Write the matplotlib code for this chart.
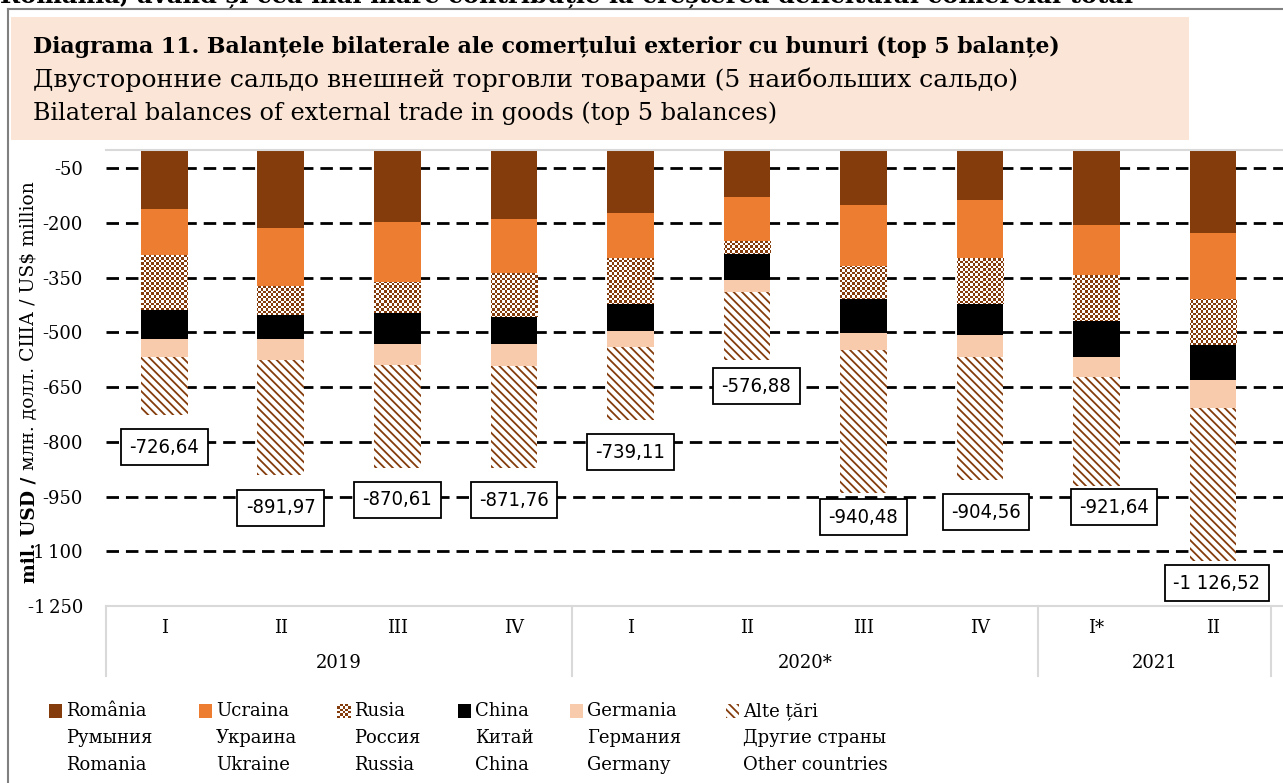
import numpy as np
import matplotlib.pyplot as plt
from matplotlib import font_manager
from matplotlib.patches import Rectangle
from matplotlib.colors import ListedColormap
from matplotlib.lines import Line2D
import matplotlib.transforms as mtransforms

# data (mil. USD, shown as negative balances)
quarters = ["I", "II", "III", "IV", "I", "II", "III", "IV", "I*", "II"]
years = ["2019", "2020*", "2021"]
year_span = [4, 4, 2]
romania = [162, 213, 198, 188, 172, 128, 151, 137, 206, 227]
ukraine = [125, 159, 164, 150, 123, 122, 167, 158, 137, 182]
russia = [152, 79, 84, 119, 127, 35, 91, 126, 126, 126]
china = [79, 67, 85, 76, 75, 72, 93, 86, 98, 95]
germany = [49, 59, 59, 58, 44, 33, 46, 60, 55, 78]
other = [159.6, 315.0, 280.6, 280.8, 198.1, 186.9, 392.5, 337.6, 299.6, 418.5]
totals = [726.64, 891.97, 870.61, 871.76, 739.11, 576.88, 940.48, 904.56, 921.64, 1126.52]
yticks = [-1250, -1100, -950, -800, -650, -500, -350, -200, -50]

# where the total boxes sit (x shift, y centre)
label_pos = [(0, -815), (0, -981), (0, -959), (0, -960), (0, -828),
             (0.08, -647), (0, -1007), (0.05, -993), (0.15, -979), (0.03, -1187)]

BROWN = "#843C0C"
ORANGE = "#ED7D31"
PEACH = "#F8CBAD"
SERIF = "DejaVu Serif"

# pick a condensed sans for the boxed totals if one is installed
fonts = font_manager.fontManager.ttflist
if any(f.name == "Liberation Sans Narrow" for f in fonts):
    narrow = dict(family="Liberation Sans Narrow", fontsize=15.5)
elif any(f.name == "DejaVu Sans" and f.stretch == "condensed" for f in fonts):
    narrow = dict(family="DejaVu Sans", stretch="condensed", fontsize=14.5)
else:
    narrow = dict(family="DejaVu Sans", fontsize=13)

plt.rcParams["hatch.linewidth"] = 1.3

W, H = 1283, 783
fig = plt.figure(figsize=(W / 100, H / 100), dpi=100)

def fx(px):
    return px / W

def fy(py):
    return 1 - py / H

# outer frame and the cut-off sentence above it
fig.add_artist(Line2D([fx(8), fx(8)], [fy(9), 0], color="#808080", lw=1.5))
fig.add_artist(Line2D([fx(8), 1], [fy(9), fy(9)], color="#808080", lw=1.5))
fig.text(0, fy(3), "România, având și cea mai mare contribuție la creșterea deficitului comercial total",
         family=SERIF, weight="bold", fontsize=17.5, va="baseline")

# title box
fig.add_artist(Rectangle((fx(11), fy(140)), fx(1189 - 11), 123 / H,
                         facecolor="#FBE5D6", edgecolor="none", transform=fig.transFigure))
fig.text(fx(33), fy(47), "Diagrama 11. Balanțele bilaterale ale comerțului exterior cu bunuri (top 5 balanțe)",
         family=SERIF, weight="bold", fontsize=15.8, va="center")
fig.text(fx(33), fy(80), "Двусторонние сальдо внешней торговли товарами (5 наибольших сальдо)",
         family=SERIF, fontsize=18.1, va="center")
fig.text(fx(33), fy(113), "Bilateral balances of external trade in goods (top 5 balances)",
         family=SERIF, fontsize=17.2, va="center")

ax = fig.add_axes([fx(106), fy(606), 1 - fx(106), (606 - 150) / H])
xlim = (-0.5, 9.6)
ylim = (-1250, 0)

x = np.arange(len(quarters))
bottom = np.zeros(len(x))
series = [(romania, BROWN), (ukraine, ORANGE), (russia, "white"),
          (china, "black"), (germany, PEACH), (other, "white")]

# checker texture for Russia, about 2.5 px per cell
checker = (np.indices((182, 470)).sum(axis=0) % 2).astype(float)
checker_cmap = ListedColormap(["white", BROWN])

for i, (vals, col) in enumerate(series):
    v = -np.array(vals, dtype=float)
    if i == 5:
        bars = ax.bar(x, v, 0.4, bottom=bottom, color="white", edgecolor=BROWN,
                      hatch="\\\\\\\\", linewidth=0, zorder=2)
    else:
        bars = ax.bar(x, v, 0.4, bottom=bottom, color=col, linewidth=0, zorder=2)
    if i == 2:
        for rect in bars:
            im = ax.imshow(checker, cmap=checker_cmap, extent=(*xlim, *ylim), aspect="auto",
                           interpolation="nearest", zorder=3)
            im.set_clip_path(rect)
    bottom += v

# boxed totals
for i, t in enumerate(totals):
    txt = f"{-t:,.2f}".replace(",", " ").replace(".", ",")
    dx, ly = label_pos[i]
    ax.text(x[i] + dx, ly, txt, ha="center", va="center", **narrow,
            bbox=dict(boxstyle="square,pad=0.42", fc="white", ec="black", lw=1.3), zorder=5)

ax.set_xlim(*xlim)
ax.set_ylim(*ylim)
ax.set_yticks(yticks)
ax.set_yticklabels([f"{v:,}".replace(",", "\u2009") for v in yticks], family=SERIF, fontsize=13)
ax.tick_params(axis="y", length=0, pad=16.5)
ax.set_xticks([])
ax.yaxis.grid(True, color="black", linestyle=(0, (4.5, 2.5)), linewidth=2)
ax.set_axisbelow(True)
for s in ["left", "right"]:
    ax.spines[s].set_visible(False)
for s in ["top", "bottom"]:
    ax.spines[s].set_color("#D9D9D9")
    ax.spines[s].set_linewidth(1.5)

# two-level category axis
trans = mtransforms.blended_transform_factory(ax.transData, ax.transAxes)
for i, q in enumerate(quarters):
    ax.text(x[i], -22 / 456, q, transform=trans, ha="center", va="center", family=SERIF, fontsize=13)
start = 0
edges = [-0.5]
for yr, n in zip(years, year_span):
    ax.text(start + (n - 1) / 2, -57 / 456, yr, transform=trans, ha="center", va="center",
            family=SERIF, fontsize=13)
    start += n
    edges.append(start - 0.5)
for e in edges:
    ax.plot([e, e], [0, -70 / 456], transform=trans, color="#D9D9D9", lw=1.5, clip_on=False)

# y label: bold first part, regular rest
fig.canvas.draw()
r = fig.canvas.get_renderer()
t1 = fig.text(fx(29), fy(583), "mil. USD / ", rotation=90, family=SERIF, weight="bold",
              fontsize=13.5, ha="center", va="bottom")
h1 = t1.get_window_extent(r).height
fig.text(fx(29), fy(583 - h1), "млн. долл. США / US$ million", rotation=90, family=SERIF,
         fontsize=13.5, ha="center", va="bottom")

# legend, three languages per entry
leg_names = [("România", "Румыния", "Romania"), ("Ucraina", "Украина", "Ukraine"),
             ("Rusia", "Россия", "Russia"), ("China", "Китай", "China"),
             ("Germania", "Германия", "Germany"), ("Alte țări", "Другие страны", "Other countries")]
leg_x = [49, 199, 337, 458, 570, 726]
for k, (names, lx) in enumerate(zip(leg_names, leg_x)):
    sq = (fx(lx), fy(718), fx(13), 14 / H)
    if k == 2:
        lax = fig.add_axes(sq)
        lax.imshow(checker[:6, :5], cmap=checker_cmap, aspect="auto", interpolation="nearest")
        lax.axis("off")
    elif k == 5:
        fig.add_artist(Rectangle(sq[:2], sq[2], sq[3], facecolor="white", edgecolor=BROWN,
                                 hatch="\\\\\\\\", linewidth=0, transform=fig.transFigure))
    else:
        fig.add_artist(Rectangle(sq[:2], sq[2], sq[3], facecolor=series[k][1], edgecolor="none",
                                 transform=fig.transFigure))
    for j, nm in enumerate(names):
        fig.text(fx(lx + 17), fy(711 + 27 * j), nm, family=SERIF, fontsize=13, va="center")

fig.savefig("out.png", dpi=100)
